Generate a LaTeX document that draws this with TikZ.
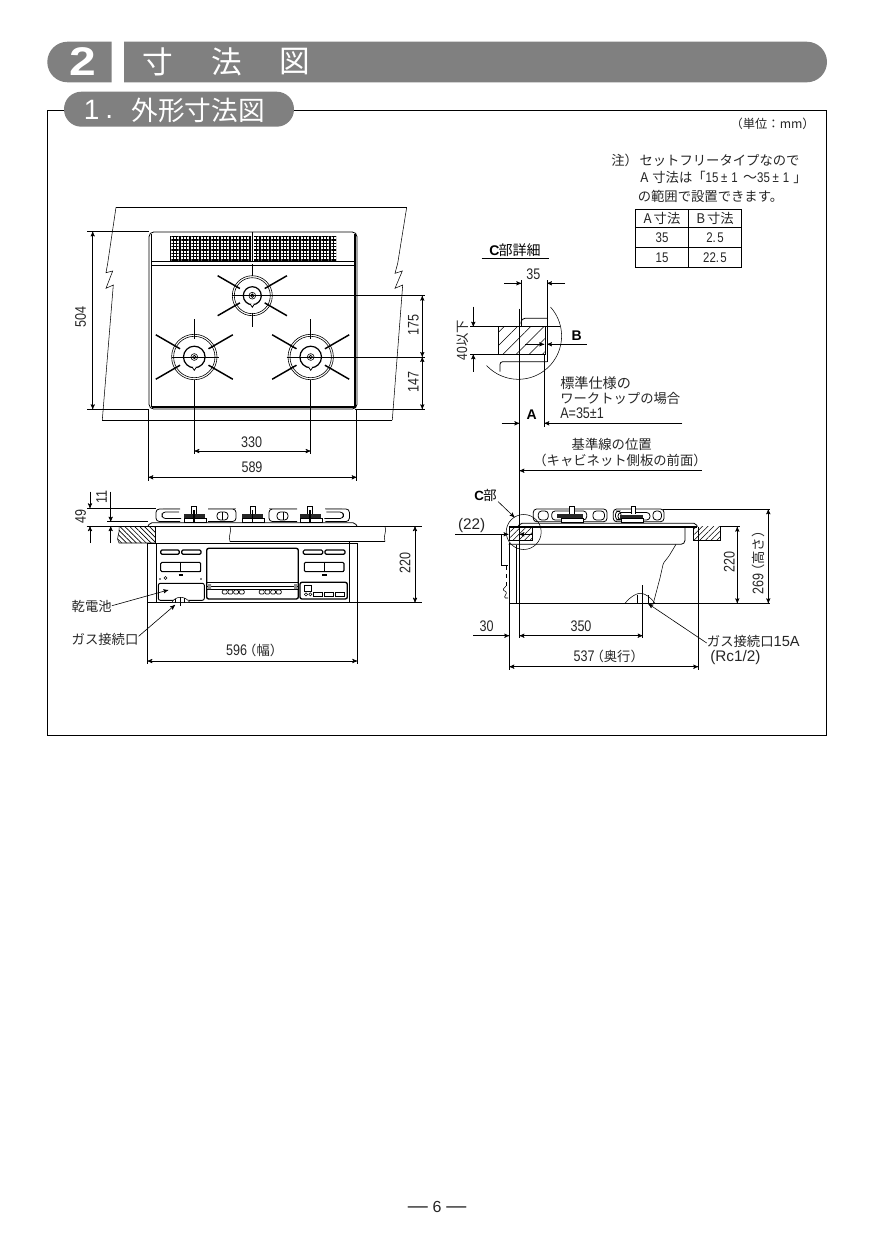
\documentclass[tikz,border=0pt]{standalone}
\usepackage{fontspec}
\newfontfamily\jpfont{Noto Sans CJK JP}
\newfontfamily\numfont[FakeStretch=0.82]{Liberation Sans}
\newfontfamily\latfont{Liberation Sans}
\usetikzlibrary{arrows,shapes.geometric,positioning,patterns.meta}
\definecolor{bargray}{gray}{0.5}

\begin{document}
\begin{tikzpicture}[
            x=0.75pt,y=-0.75pt,
            every node/.style={inner sep=0pt, text=black!85},
            jlab/.style={font=\jpfont\fontsize{10}{11}\selectfont},
            nlab/.style={font=\numfont\fontsize{11.5}{13}\selectfont},
            blab/.style={font=\latfont\bfseries\fontsize{10.5}{12}\selectfont, text=black},
            cell/.style={font=\numfont\fontsize{10.5}{12}\selectfont},
            to/.style={->,>=stealth',line width=0.45pt},
            dim/.style={<->,>=stealth',line width=0.45pt},
            ext/.style={line width=0.4pt},
            outline/.style={line width=0.6pt},
            heavy/.style={line width=1.3pt},
            spoke/.style={line width=1.1pt},
            bar/.style={fill=bargray, draw=none},
            grate/.style={line width=0.6pt, rounded corners=2.5pt},
            vent/.style={draw=none, pattern={Lines[angle=0,distance=2.5pt,line width=0.9pt]}},
            ventb/.style={draw=none, pattern={Lines[angle=90,distance=2.5pt,line width=0.9pt]}},
            hatchl/.style={pattern={Lines[angle=-45,distance=2.6pt,line width=0.5pt]}},
            hatchr/.style={pattern={Lines[angle=45,distance=3pt,line width=0.4pt]}},
            hatchc/.style={pattern={Lines[angle=45,distance=7pt,line width=0.4pt]}}
  ]
  \useasboundingbox (0,0) rectangle (874,1240);

  % headings
  \path[bar] (111.7,41.7) [rounded corners=15.2pt] -- (47.3,41.7) -- (47.3,82.3) [sharp corners] -- (111.7,82.3) -- cycle;
  \path[bar] (124,41.7) [rounded corners=15.2pt] -- (827,41.7) -- (827,82.3) [sharp corners] -- (124,82.3) -- cycle;
  \draw[line width=0.6pt] (47.7,110) rectangle (826.5,735);
  \path[bar, rounded corners=13pt] (64,91.7) rectangle (294,126.7);
  \node[font=\latfont\bfseries\fontsize{30}{32}\selectfont, text=white, xscale=1.2] (chapnum) at (83.3,61.7) {2};
  \node[font=\jpfont\fontsize{23}{25}\selectfont, text=white] (chap1) at (158.3,62) {寸};
  \node[font=\jpfont\fontsize{23}{25}\selectfont, text=white] (chap2) at (226.7,62) {法};
  \node[font=\jpfont\fontsize{23}{25}\selectfont, text=white] (chap3) at (295,62) {図};
  \node[font=\latfont\fontsize{21}{23}\selectfont, text=white] (secnum) at (91.7,109.5) {1};
  \node[font=\latfont\fontsize{21}{23}\selectfont, text=white] (secdot) at (109.3,117.3) {.};
  \node[font=\jpfont\fontsize{20}{22}\selectfont, text=white] (sectitle) at (198.3,110) {外形寸法図};

  % note and table
  \node[anchor=east, font=\jpfont\fontsize{9.2}{10}\selectfont] (unit) at (815,124) {（単位：mm）};
  \node[jlab, anchor=west] (note0) at (611,160) {注）};
  \node[jlab, anchor=west] (note1) at (639.3,160) {セットフリータイプなので};
  \node[jlab, anchor=west] (note2) at (640,177.7) {A\kern3pt 寸法は「{\numfont\fontsize{10.5}{12}\selectfont 15\kern2pt ±\kern3pt 1\kern4pt{\jpfont ～}35\kern2pt ±\kern3pt 1\kern3pt}」};
  \node[jlab, anchor=west] (note3) at (637.5,196) {の範囲で設置できます。};
  \draw[ext, line width=0.55pt] (635.7,209) rectangle (741.7,267.3);
  \draw[ext, line width=0.55pt] (688.3,209) -- (688.3,267.3);
  \draw[ext, line width=0.55pt] (635.7,227.3) -- (741.7,227.3);
  \draw[ext, line width=0.55pt] (635.7,247.3) -- (741.7,247.3);
  \node[jlab] (headA) at (662,218.5) {A\kern1.5pt 寸法};
  \node[jlab] (headB) at (715,218.5) {B\kern1.5pt 寸法};
  \node[cell] (a35) at (662,237.5) {35};
  \node[cell] (b25) at (715,237.5) {2.\kern1pt 5};
  \node[cell] (a15) at (662,257.5) {15};
  \node[cell] (b225) at (715,257.5) {22.\kern1pt 5};

  % top view, worktop outline
  \draw[ext] (116,207.3) -- (406.7,207.3);
  \draw[ext] (102.3,420) -- (392.3,420);
  \draw[ext] (116,207.3) -- (107.7,263.3) -- (106,272.7) -- (112.7,271) -- (106,288.3) -- (113.3,285) -- (102.3,420);
  \draw[ext] (406.7,207.3) -- (397.7,263.3) -- (395,273.3) -- (402.3,271) -- (395,288.3) -- (402.7,285) -- (392.3,420);

  % top view, hob
  \fill[white] (149,232) rectangle (357,409);
  \draw[outline, rounded corners=3.5pt] (149,232) rectangle (357,409);
  \draw[outline] (151.5,261) -- (354.5,261);
  \draw[outline] (151.5,265) -- (354.5,265);
  \draw[line width=0.9pt] (151.5,234) -- (151.5,406.5);
  \draw[line width=1.6pt] (355,234) -- (355,407) -- (152,407);
  \draw[outline] (252.5,232) -- (252.5,261);
  \path[vent] (170,236) rectangle (251,260);
  \path[ventb] (170,236) rectangle (251,260);
  \path[vent] (254,236) rectangle (336,260);
  \path[ventb] (254,236) rectangle (336,260);

  % burners: x, y, outer radius, ring radius, spoke start, spoke end, then the upright spoke
  \foreach \bx/\by/\bo/\bi/\sa/\sb/\va/\vc/\vb in {252.3/295.7/20/9/14.3/40/20/17/31.7, 194.3/357/22.7/10.8/16.4/44.5/18/23/37.7, 310.7/357/22.7/10.8/16.4/44.5/18/23/37.7}{
    \draw[line width=0.45pt] (\bx,\by) circle[radius=\bo];
    \draw[line width=0.45pt] (\bx,\by) circle[radius=\bo-2];
    \draw[line width=0.9pt] (\bx,\by) circle[radius=\bi];
    \draw[line width=0.45pt] (\bx,\by) circle[radius=3.4];
    \draw[line width=0.6pt] (\bx,\by) circle[radius=1.7];
    \fill[white] (\bx-1.5,\by+\bi-1) rectangle (\bx+1.5,\by+\bi+1);
    \draw[line width=0.6pt] (\bx-2,\by+\bi-0.5) -- (\bx,\by+\bi+2.5) -- (\bx+2,\by+\bi-0.5);
    \draw[spoke] (\bx,\by-\vb) -- (\bx,\by-\va);
    \draw[spoke] (\bx,\by+\vc) -- (\bx,\by+\vb);
    \foreach \a in {30,150,210,330}{
      \draw[spoke] ({\bx+\sa*cos(\a)},{\by+\sa*sin(\a)}) -- ({\bx+\sb*cos(\a)},{\by+\sb*sin(\a)});
    }
  }
  \draw[ext] (231.7,295.7) -- (425,295.7);
  \draw[ext] (286.7,357) -- (425,357);
  \draw[ext] (171.7,357) -- (219,357);

  % top view, dimensions
  \draw[ext] (87.3,231.5) -- (149,231.5);
  \draw[ext] (87.3,409.3) -- (149,409.3);
  \draw[ext] (355,409.3) -- (425,409.3);
  \draw[ext] (148.3,409) -- (148.3,481);
  \draw[ext] (356.7,409) -- (356.7,481);
  \draw[ext] (194.3,395) -- (194.3,454);
  \draw[ext] (310.7,395) -- (310.7,454);
  \draw[dim] (92.7,231.5) -- (92.7,409.3);
  \node[nlab, rotate=90] (d504) at (80.7,316.7) {504};
  \draw[dim] (422.3,295.7) -- (422.3,357);
  \node[nlab, rotate=90] (d175) at (413.3,325) {175};
  \draw[dim] (422.3,357) -- (422.3,409.3);
  \node[nlab, rotate=90] (d147) at (413.3,382.3) {147};
  \draw[dim] (194.3,451) -- (310.7,451);
  \node[nlab] (d330) at (251.7,442.3) {330};
  \draw[dim] (148.3,477.3) -- (356.7,477.3);
  \node[nlab] (d589) at (252,467.7) {589};

  % front view, worktop
  \path[hatchl] (118.3,526.7) .. controls (121,532) and (115,538) .. (119,543) -- (155,543) -- (155,526.7) -- cycle;
  \draw[ext] (119,526.7) .. controls (121,532) and (115,538) .. (119,543) -- (155,543);
  \draw[heavy] (155.5,526.7) -- (155.5,543);
  \draw[ext] (86.7,526.2) -- (422,526.2);
  \draw[outline] (230,541.5) -- (385,541.5);
  \draw[ext] (230,526.5) .. controls (232.5,531) and (227.5,536) .. (230,541.5);
  \draw[ext] (385,526.5) .. controls (387.5,531) and (382.5,536) .. (385,541.5);
  \draw[outline, rounded corners=1.5pt] (148,526.2) -- (150,522.7) -- (355,522.7) -- (357,526.2);

  % front view, grates
  \draw[grate] (180,509) -- (156,509) -- (156,521.5) -- (180,521.5);
  \draw[grate] (179,512) -- (162,512) -- (162,518.5) -- (181,518.5);
  \draw[grate] (325.4,509) -- (349.4,509) -- (349.4,521.5) -- (325.4,521.5);
  \draw[grate] (326.4,512) -- (343.4,512) -- (343.4,518.5) -- (324.4,518.5);
  \draw[grate] (208,509) -- (236,509) -- (236,521.5) -- (208,521.5);
  \draw[grate] (217,512) rectangle (228,520);
  \draw[ext] (222,512) -- (222,520);
  \draw[grate] (297,509) -- (269,509) -- (269,521.5) -- (297,521.5);
  \draw[grate] (277,512) rectangle (288,520);
  \draw[ext] (283,512) -- (283,520);
  \draw[line width=1.2pt, black!45] (163,508.6) -- (180,508.6) (208,508.6) -- (236,508.6) (269,508.6) -- (297,508.6) (325.4,508.6) -- (342,508.6);
  \foreach \kx in {194,252.7,310}{
    \draw[outline, fill=white] (\kx-2.5,513.5) -- (\kx-2.5,506) -- (\kx+2.5,506) -- (\kx+2.5,513.5);
    \fill[black!85] (\kx-10.5,513.5) rectangle (\kx+10.5,517.5);
    \draw[outline] (\kx-10,518) rectangle (\kx+12,522);
    \draw[line width=1pt] (\kx,510) -- (\kx,522);
  }

  % front view, body
  \draw[outline] (147.3,543.3) -- (357.3,543.3);
  \draw[outline] (147.3,543.3) -- (147.3,602.7);
  \draw[outline] (357.3,543.3) -- (357.3,602.7);
  \draw[ext] (156.3,543.3) -- (156.3,602.7);
  \draw[ext] (349.3,541.5) -- (349.3,602.7);
  \draw[outline] (147.3,602.7) -- (422,602.7);
  \draw[line width=0.9pt, rounded corners=1pt] (160.7,550) rectangle (179.3,554.3);
  \draw[line width=0.9pt, rounded corners=1pt] (181.7,550) rectangle (201,554.3);
  \draw[line width=0.9pt, rounded corners=1pt] (303.3,550) rectangle (322.7,554.3);
  \draw[line width=0.9pt, rounded corners=1pt] (325,550) rectangle (345,554.3);
  \draw[line width=0.8pt, rounded corners=1pt] (160.7,562.3) rectangle (200.7,571.7);
  \draw[ext] (180.7,562.3) -- (180.7,571.7);
  \draw[heavy] (161,571.5) -- (200.5,571.5);
  \draw[line width=0.8pt, rounded corners=1pt] (304.3,562.3) rectangle (344,571.7);
  \draw[ext] (324.3,562.3) -- (324.3,571.7);
  \draw[heavy] (304.5,571.5) -- (343.8,571.5);
  \draw[line width=1pt] (178.5,575) -- (183,575) (322,575) -- (326.5,575);
  \draw[line width=1pt, rounded corners=1.5pt] (206.7,548.3) rectangle (298.3,599);
  \draw[ext] (206.7,582.3) -- (298.3,582.3);
  \draw[line width=0.8pt] (206.7,586.7) -- (298.3,586.7);
  \draw[ext] (206.7,589) -- (298.3,589);
  \fill[black!45] (208,584) rectangle (211,589) (294,584) rectangle (297,589);
  \foreach \sx in {222.3,228,233.7,239.4,259.3,265,270.7,276.4}{
    \draw[line width=0.5pt, rounded corners=0.8pt] (\sx,590) rectangle (\sx+4.8,594);
  }
  \draw[line width=0.7pt, rounded corners=1.5pt] (158.3,583.3) rectangle (204.3,600.3);
  \draw[ext] (165.6,578) circle[radius=1.5];
  \fill (160,579) circle[radius=0.9] (201,579) circle[radius=0.9];
  \draw[line width=1pt, rounded corners=1.5pt] (300,582.3) rectangle (347.3,599);
  \draw[line width=0.6pt] (304.3,585.7) rectangle (311.7,591.7);
  \draw[ext] (306,594.3) circle[radius=1.6] (310.3,594.3) circle[radius=1.6];
  \foreach \sx in {313.3,324,335}{
    \draw[line width=0.7pt] (\sx,592.3) rectangle (\sx+9,596);
  }
  \fill[white] (171.7,602) .. controls (175,596) and (185,595) .. (190,602) -- cycle;
  \draw[ext] (171.7,602.7) .. controls (175,596) and (185,595) .. (190,602.7);
  \draw[ext] (175,599) -- (175,602.7) (180,597) -- (180,606) (184.5,598) -- (184.5,602.7);

  % front view, dimensions
  \draw[ext] (87,508.3) -- (156,508.3);
  \draw[ext] (107,521.7) -- (148,521.7);
  \draw[to] (90,491.7) -- (90,508.3);
  \draw[to] (90,543) -- (90,526.2);
  \node[nlab, rotate=90] (d49) at (80.7,516.7) {49};
  \draw[to] (110.7,491.7) -- (110.7,521.7);
  \draw[to] (110.7,543) -- (110.7,526.2);
  \node[nlab, rotate=90] (d11) at (101.7,496.7) {11};
  \draw[dim] (415,526.2) -- (415,602.7);
  \node[nlab, rotate=90] (d220f) at (405,563.3) {220};
  \draw[ext] (147.3,602.7) -- (147.3,664);
  \draw[ext] (357.3,602.7) -- (357.3,664);
  \draw[dim] (147.3,661) -- (357.3,661);
  \node[nlab] (d596) at (252.7,650.7) {596{\jpfont\fontsize{10}{11}\selectfont\kern-3pt（幅）\kern-3pt}};
  \node[jlab] (battery) at (91.7,606.7) {乾電池};
  \coordinate (batterytip) at (168.3,590);
  \draw[to] (battery.east) ++(0,-1) -- (batterytip);
  \node[jlab] (gasfront) at (105,639.3) {ガス接続口};
  \coordinate (gasfronttip) at (175,605);
  \draw[to] (gasfront.east) ++(0,-3) -- (gasfronttip);

  % side view
  \path[hatchr] (509.3,526.7) rectangle (532.7,540.7);
  \draw[ext] (509.3,526.7) rectangle (532.7,540.7);
  \path[hatchr] (693.3,526.7) rectangle (720.7,540.7);
  \draw[ext] (693.3,540.7) -- (720.7,540.7) -- (720.7,526.7);
  \draw[ext] (693.3,526.7) -- (693.3,540.7);
  \draw[ext] (519.4,308.5) -- (519.4,638);
  \draw[outline, rounded corners=1.5pt] (518,526.7) -- (520,523.3) -- (696,523.3) -- (697.3,526.7);
  \draw[heavy] (510,526.7) -- (696.7,526.7);
  \draw[outline, rounded corners=3pt] (685,526.7) -- (685,544.3) -- (508.5,544.3);
  \draw[outline] (509,543) -- (509,603.3);
  \draw[ext] (516,545) -- (516,603.3);
  \draw[outline] (509,603.3) -- (770,603.3);
  \draw[ext] (698.3,526.7) -- (698.3,670);
  \draw[ext] (509.3,603.3) -- (509.3,670);
  \draw[ext] (501.7,535) -- (501.7,565) -- (508,565);
  \draw[ext, dashed] (506.5,566) -- (506.5,586);
  \draw[ext, rounded corners=1pt] (506,586) -- (502.5,590) -- (507,592) -- (504,598) -- (508,598);
  \draw[ext, rounded corners=1pt] (676,544.3) -- (669,556) -- (663.3,563.3) -- (660,578) -- (653.3,603.3);
  \draw[ext] (625,603.3) .. controls (631,596) and (637,593.3) .. (640,593.3) .. controls (646,593.3) and (651,598) .. (655,603.3);
  \draw[ext] (637,594.5) -- (637,603.3) (648,595) -- (648,603.3);
  \draw[ext] (642.7,585) -- (642.7,638);
  \draw[ext] (523.7,532) circle[radius=17.5];

  % side view, grates
  \draw[grate] (533.3,509) rectangle (607,521.7);
  \draw[grate] (538.3,511) rectangle (548.3,520);
  \draw[grate] (551.7,511) rectangle (586.7,520);
  \draw[grate] (593,511) rectangle (604.5,520);
  \draw[grate] (613.3,509) rectangle (664,521.7);
  \draw[grate] (615.5,511) rectangle (621,520);
  \draw[grate] (618,512.5) rectangle (650,520);
  \draw[grate] (653,511) rectangle (661.5,520);
  \draw[outline, fill=white] (569.5,513.5) -- (569.5,506.7) -- (574,506.7) -- (574,513.5);
  \fill[black!85] (556.7,514) rectangle (583.3,518);
  \draw[outline, fill=white] (561,518) rectangle (583,522);
  \draw[outline, fill=white] (631,513.5) -- (631,506.7) -- (635.7,506.7) -- (635.7,513.5);
  \fill[black!85] (620,515) rectangle (643,518.5);
  \draw[outline, fill=white] (621,518.5) rectangle (643,522);

  % side view, dimensions
  \draw[ext] (663,509.3) -- (770,509.3);
  \draw[ext] (720,526.7) -- (740,526.7);
  \draw[dim] (737.3,526.7) -- (737.3,603.3);
  \node[nlab, rotate=90] (d220s) at (729.3,561.7) {220};
  \draw[dim] (768.3,509.3) -- (768.3,603.3);
  \node[nlab, rotate=90] (d269) at (758.3,561.7) {269{\jpfont\fontsize{10}{11}\selectfont\kern-3pt（高さ）\kern-3pt}};
  \node[font=\latfont\fontsize{11.5}{13}\selectfont] (d22) at (471.7,525.7) {(22)};
  \coordinate (d22a) at (455,534.3);
  \coordinate (d22b) at (508.5,534.3);
  \coordinate (d22c) at (532,534.3);
  \coordinate (d22d) at (519.4,534.3);
  \draw[to] (d22a) -- (d22b);
  \draw[to] (d22c) -- (d22d);
  \coordinate (d30a) at (473.3,635.7);
  \coordinate (d30b) at (509.3,635.7);
  \draw[to] (d30a) -- (d30b);
  \node[nlab] (d30) at (486.7,626.7) {30};
  \draw[dim] (519.4,635.7) -- (642.7,635.7);
  \node[nlab] (d350) at (581,626.7) {350};
  \draw[dim] (509.3,666.7) -- (698.3,666.7);
  \node[nlab] (d537) at (606.7,656.7) {537{\jpfont\fontsize{10}{11}\selectfont\kern-3pt（奥行）\kern-3pt}};
  \node[blab, anchor=east, font=\latfont\bfseries\fontsize{10}{12}\selectfont] (partc) at (497,495) {C{\jpfont\mdseries\kern-0.5pt 部}};
  \coordinate (partctip) at (514.5,517.3);
  \draw[to] (498,501.5) -- (partctip);
  \node[jlab, anchor=west] (gasside) at (706.7,641) {ガス接続口{\latfont\fontsize{11}{13}\selectfont 15A}};
  \node[anchor=west, font=\latfont\fontsize{11.5}{13}\selectfont] (gasrc) at (710,657.7) {(Rc1/2)};
  \coordinate (gassidetip) at (648.3,603.8);
  \draw[to] (gasside.west) ++(0,2) -- (gassidetip);

  % detail C
  \node[blab, font=\latfont\bfseries\fontsize{10.5}{12}\selectfont] (detailc) at (515,250) {C{\jpfont\mdseries\kern-0.5pt 部詳細}};
  \draw[ext, line width=0.55pt] (481.7,258.3) -- (549.3,258.3);
  \path[hatchc] (498.3,326.7) rectangle (545,354.3);
  \draw[outline] (498.3,326.7) rectangle (545,354.3);
  \draw[ext] (470,326.7) -- (560,326.7);
  \draw[ext] (470,354.3) -- (498.3,354.3);
  \draw[ext] (521.3,280) -- (521.3,326.7);
  \draw[ext] (547,280) -- (547,354.3);
  \draw[ext] (544.3,354.3) -- (544.3,426.7);
  \draw[ext] (547,354.3) -- (547,361.7);
  \draw[outline, rounded corners=3pt] (521,322) -- (521,318.3) -- (547,318.3);
  \draw[outline, rounded corners=2pt] (500,371.7) -- (500,361.7) -- (547,361.7);
  \draw[ext] plot[domain=-42:137,samples=40] ({518.3+43.3*cos(\x)},{336+43.3*sin(\x)});
  \draw[to] (504,283.3) -- (521.3,283.3);
  \draw[to] (565,283.3) -- (547,283.3);
  \node[nlab] (d35) at (533.3,274.3) {35};
  \draw[to] (473.3,306.7) -- (473.3,326.7);
  \draw[to] (473.3,371.7) -- (473.3,354.3);
  \node[jlab, rotate=90] (d40) at (462.3,340) {{\numfont\fontsize{11}{13}\selectfont 40}以下};
  \draw[to] (525,344.3) -- (544.3,344.3);
  \draw[to] (586.7,344.3) -- (547,344.3);
  \node[blab] (labelb) at (576.7,335.7) {B};
  \draw[to] (501.7,423.3) -- (519.4,423.3);
  \draw[to] (682.3,423.3) -- (544.3,423.3);
  \node[blab] (labela) at (531.7,414.3) {A};
  \node[anchor=west, font=\jpfont\fontsize{10.6}{12}\selectfont] (std1) at (560,383.3) {標準仕様の};
  \node[jlab, anchor=west] (std2) at (560,398.3) {ワークトップの場合};
  \node[nlab, anchor=west] (std3) at (560,413.5) {A=35±1};
  \node[jlab] (base1) at (611.7,444.3) {基準線の位置};
  \node[jlab] (base2) at (620,460.7) {（キャビネット側板の前面）};
  \draw[to] (701.7,470.7) -- (519.4,470.7);

  % page number
  \node[font=\latfont\fontsize{15}{17}\selectfont] (pagenum) at (437,1207) {—\kern3.6pt{\fontsize{12}{14}\selectfont 6}\kern3.6pt—};

\end{tikzpicture}
\end{document}
